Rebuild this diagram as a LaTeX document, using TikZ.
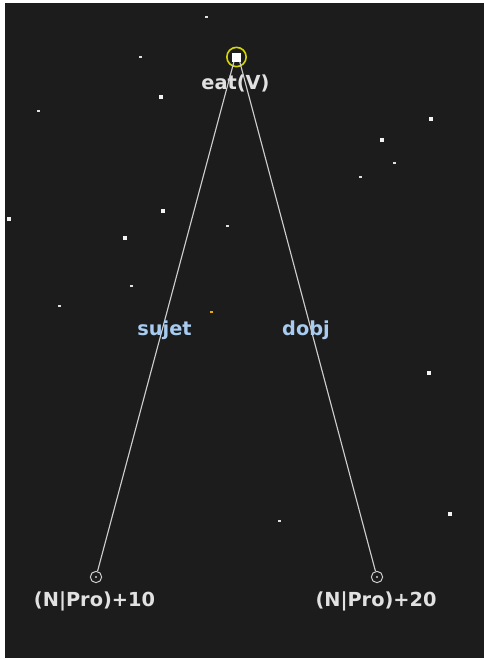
\documentclass[tikz,border=0pt]{standalone}
\usepackage{fontspec}
\setmainfont{DejaVu Sans}
\usetikzlibrary{positioning}

\definecolor{nightbg}{RGB}{28,28,28}
\definecolor{edgegray}{RGB}{205,205,205}
\definecolor{labelwhite}{RGB}{225,225,225}
\definecolor{relblue}{RGB}{168,204,240}
\definecolor{rootyellow}{RGB}{215,215,0}
\definecolor{dotorange}{RGB}{230,170,20}

\begin{document}
\begin{tikzpicture}[
	x=0.75pt, y=-0.75pt,
	word/.style={
		font=\bfseries\fontsize{14.5}{17}\selectfont,
		text=labelwhite,
		inner sep=0pt
	},
	relation/.style={
		font=\bfseries\fontsize{14.5}{17}\selectfont,
		text=relblue,
		inner sep=0pt
	},
	rootring/.style={
		circle,
		draw=rootyellow,
		line width=1.2pt,
		minimum size=14.5pt,
		inner sep=0pt
	},
	rootdot/.style={
		rectangle,
		fill=white,
		minimum size=6.5pt,
		inner sep=0pt
	},
	leafring/.style={
		circle,
		draw=edgegray,
		line width=0.75pt,
		minimum size=8.5pt,
		inner sep=0pt
	},
	edge/.style={
		draw=edgegray,
		line width=0.85pt
	},
	bigstar/.style={fill=white!90!gray},
	smallstar/.style={fill=white!75!gray}
	]
	\useasboundingbox (0,0) rectangle (484,660);
	\fill[white] (0,0) rectangle (484,660);
	\fill[nightbg] (5,3) rectangle (484,658);

	% background dots
	\foreach \x/\y in {161/97, 163/211, 125/238, 431/119, 382/140, 9/219, 429/373, 450/514}{
		\fill[bigstar] (\x-2,\y-2) rectangle ++(4,4);
	}
	\foreach \x/\y in {206/17, 140/57, 38/111, 131/286, 227/226, 394/163, 360/177, 59/306, 279/521}{
		\fill[smallstar] (\x-1.5,\y-1) rectangle ++(3,2);
	}
	\fill[dotorange] (209.5,311) rectangle ++(3,2);

	\node[rootring] (eat) at (236.5,57) {};
	\node[rootdot] (eatdot) at (236.5,57.5) {};
	\node[word] (eatlabel) at (235.5,83) {eat(V)};

	\node[leafring] (n10) at (96,577) {};
	\node[leafring] (n20) at (377,577) {};
	\fill[edgegray] (n10.center) circle (0.9pt);
	\fill[edgegray] (n20.center) circle (0.9pt);
	\node[word] (n10label) at (94.5,601.5) {(N|Pro)+10};
	\node[word] (n20label) at (376,601.5) {(N|Pro)+20};

	\draw[edge] ([xshift=-2pt]eatdot.south) -- (n10);
	\draw[edge] ([xshift=2.5pt]eatdot.south) -- (n20);

	\node[relation] (sujet) at (164.5,330) {sujet};
	\node[relation] (dobj) at (306,330) {dobj};
\end{tikzpicture}
\end{document}
